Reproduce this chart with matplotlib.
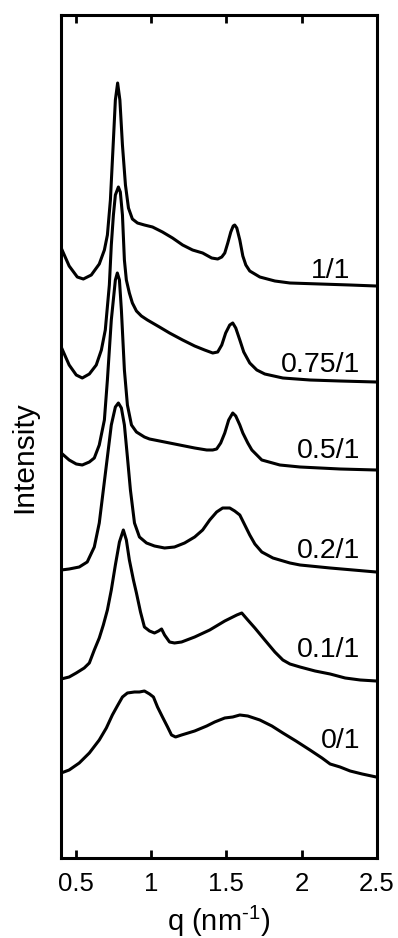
import matplotlib
matplotlib.use('Agg')
import matplotlib.pyplot as plt

plt.rcParams['font.family'] = ['Liberation Sans', 'DejaVu Sans']
plt.rcParams['mathtext.fontset'] = 'custom'
plt.rcParams['mathtext.rm'] = 'Liberation Sans'
plt.rcParams['mathtext.it'] = 'Liberation Sans:italic'

# q in nm^-1, intensity in arbitrary units (already stacked)
q_11 = [0.402, 0.455, 0.509, 0.549, 0.602, 0.655, 0.689, 0.709, 0.729, 0.749, 0.762, 0.777, 0.792,
        0.809, 0.829, 0.849, 0.875, 0.909, 0.955, 1.009, 1.075, 1.142, 1.209, 1.275, 1.342, 1.402,
        1.442, 1.469, 1.489, 1.509, 1.529, 1.545, 1.555, 1.569, 1.589, 1.609, 1.629, 1.655, 1.722,
        1.822, 1.922, 2.122, 2.322, 2.495]
i_11 = [6.10, 5.92, 5.81, 5.79, 5.83, 5.94, 6.08, 6.23, 6.58, 7.18, 7.58, 7.75, 7.58,
        7.13, 6.73, 6.50, 6.39, 6.35, 6.33, 6.31, 6.26, 6.20, 6.13, 6.08, 6.05, 6.00,
        5.99, 6.01, 6.05, 6.15, 6.26, 6.32, 6.33, 6.30, 6.18, 6.02, 5.93, 5.87, 5.81,
        5.77, 5.75, 5.74, 5.73, 5.72]

q_075 = [0.402, 0.455, 0.502, 0.542, 0.589, 0.635, 0.669, 0.695, 0.722, 0.735, 0.749, 0.762, 0.782,
         0.795, 0.809, 0.822, 0.835, 0.855, 0.875, 0.902, 0.935, 0.975, 1.055, 1.122, 1.209, 1.289,
         1.355, 1.409, 1.442, 1.469, 1.495, 1.522, 1.542, 1.562, 1.589, 1.615, 1.655, 1.702, 1.755,
         1.875, 2.055, 2.255, 2.495]
i_075 = [5.11, 4.93, 4.83, 4.80, 4.84, 4.93, 5.08, 5.28, 5.73, 6.13, 6.43, 6.63, 6.71,
         6.66, 6.43, 5.98, 5.78, 5.65, 5.55, 5.47, 5.42, 5.38, 5.31, 5.25, 5.18, 5.12,
         5.08, 5.05, 5.06, 5.13, 5.25, 5.33, 5.35, 5.30, 5.18, 5.06, 4.95, 4.88, 4.84,
         4.80, 4.78, 4.77, 4.76]

q_05 = [0.402, 0.455, 0.502, 0.542, 0.589, 0.622, 0.655, 0.689, 0.709, 0.735, 0.762, 0.775, 0.789,
        0.802, 0.822, 0.842, 0.869, 0.902, 0.955, 0.989, 1.089, 1.189, 1.289, 1.369, 1.409, 1.435,
        1.462, 1.489, 1.515, 1.542, 1.562, 1.589, 1.609, 1.642, 1.669, 1.735, 1.855, 1.989, 2.255,
        2.495]
i_05 = [4.05, 3.98, 3.94, 3.93, 3.96, 4.00, 4.13, 4.38, 4.78, 5.38, 5.78, 5.85, 5.78,
        5.48, 4.88, 4.53, 4.33, 4.26, 4.21, 4.19, 4.16, 4.13, 4.10, 4.08, 4.08, 4.09,
        4.15, 4.25, 4.38, 4.45, 4.42, 4.33, 4.25, 4.15, 4.08, 3.98, 3.93, 3.91, 3.89,
        3.88]

q_02 = [0.402, 0.455, 0.522, 0.575, 0.622, 0.655, 0.682, 0.709, 0.735, 0.762, 0.782, 0.802, 0.822,
        0.842, 0.862, 0.889, 0.922, 0.969, 1.022, 1.089, 1.155, 1.222, 1.289, 1.342, 1.389, 1.435,
        1.475, 1.522, 1.555, 1.589, 1.622, 1.655, 1.689, 1.735, 1.809, 1.922, 1.989, 2.189, 2.495]
i_02 = [2.88, 2.89, 2.91, 2.96, 3.11, 3.35, 3.68, 4.01, 4.33, 4.51, 4.55, 4.50, 4.33,
        4.01, 3.68, 3.35, 3.21, 3.15, 3.12, 3.10, 3.11, 3.15, 3.21, 3.28, 3.38, 3.46,
        3.50, 3.50, 3.47, 3.43, 3.33, 3.23, 3.14, 3.06, 3.00, 2.95, 2.93, 2.90, 2.86]

q_01 = [0.402, 0.455, 0.502, 0.555, 0.589, 0.622, 0.655, 0.682, 0.709, 0.735, 0.762, 0.789, 0.815,
        0.835, 0.855, 0.882, 0.902, 0.929, 0.955, 0.989, 1.022, 1.049, 1.069, 1.089, 1.122, 1.155,
        1.202, 1.289, 1.389, 1.489, 1.569, 1.602, 1.642, 1.689, 1.755, 1.822, 1.875, 1.922, 1.989,
        2.089, 2.189, 2.289, 2.389, 2.495]
i_01 = [1.79, 1.81, 1.85, 1.90, 1.95, 2.08, 2.20, 2.33, 2.48, 2.68, 2.93, 3.16, 3.28,
        3.18, 2.98, 2.78, 2.65, 2.46, 2.31, 2.27, 2.25, 2.27, 2.29, 2.23, 2.16, 2.15,
        2.16, 2.21, 2.28, 2.37, 2.43, 2.45, 2.38, 2.30, 2.18, 2.06, 1.98, 1.94, 1.91,
        1.87, 1.84, 1.80, 1.78, 1.77]

q_0 = [0.402, 0.455, 0.522, 0.589, 0.655, 0.702, 0.742, 0.775, 0.809, 0.842, 0.889, 0.922, 0.955,
       0.989, 1.015, 1.042, 1.075, 1.109, 1.135, 1.162, 1.202, 1.289, 1.369, 1.422, 1.489, 1.542,
       1.589, 1.642, 1.722, 1.802, 1.875, 1.962, 2.055, 2.135, 2.189, 2.255, 2.322, 2.402, 2.495]
i_0 = [0.85, 0.88, 0.95, 1.05, 1.18, 1.30, 1.43, 1.52, 1.61, 1.65, 1.66, 1.66, 1.67,
       1.64, 1.61, 1.51, 1.41, 1.31, 1.23, 1.21, 1.23, 1.27, 1.32, 1.36, 1.40, 1.41,
       1.43, 1.42, 1.38, 1.32, 1.25, 1.17, 1.08, 1.00, 0.94, 0.91, 0.87, 0.84, 0.81]

labels = ['1/1', '0.75/1', '0.5/1', '0.2/1', '0.1/1', '0/1']
label_q = [2.322, 2.389, 2.389, 2.389, 2.389, 2.389]
label_i = [5.80, 4.86, 4.00, 3.00, 2.01, 1.10]

curves = [(q_11, i_11), (q_075, i_075), (q_05, i_05), (q_02, i_02), (q_01, i_01), (q_0, i_0)]

fig = plt.figure(figsize=(3.98, 9.38), dpi=100)
ax = fig.add_axes([0.153, 0.0853, 0.794, 0.8987])

for q, inten in curves:
    ax.plot(q, inten, color='black', lw=2.2, solid_joinstyle='round')

for lab, x, y in zip(labels, label_q, label_i):
    ax.text(x, y, lab, ha='right', va='baseline', fontsize=20.5)

ax.set_xlim(0.4, 2.5)
ax.set_ylim(0, 8.43)
ax.set_xticks([0.5, 1, 1.5, 2, 2.5])
ax.set_xticklabels(['0.5', '1', '1.5', '2', '2.5'])
ax.set_yticks([])
ax.tick_params(axis='x', direction='in', top=True, length=6, width=2, labelsize=18.5, pad=10)
for s in ax.spines.values():
    s.set_linewidth(2.2)

ax.set_xlabel('q (nm$^{\\text{-}1}$)', fontsize=21, labelpad=6)
fig.text(0.062, 0.513, 'Intensity', rotation=90, fontsize=21.5, ha='center', va='center')

fig.savefig('out.png', dpi=100)
